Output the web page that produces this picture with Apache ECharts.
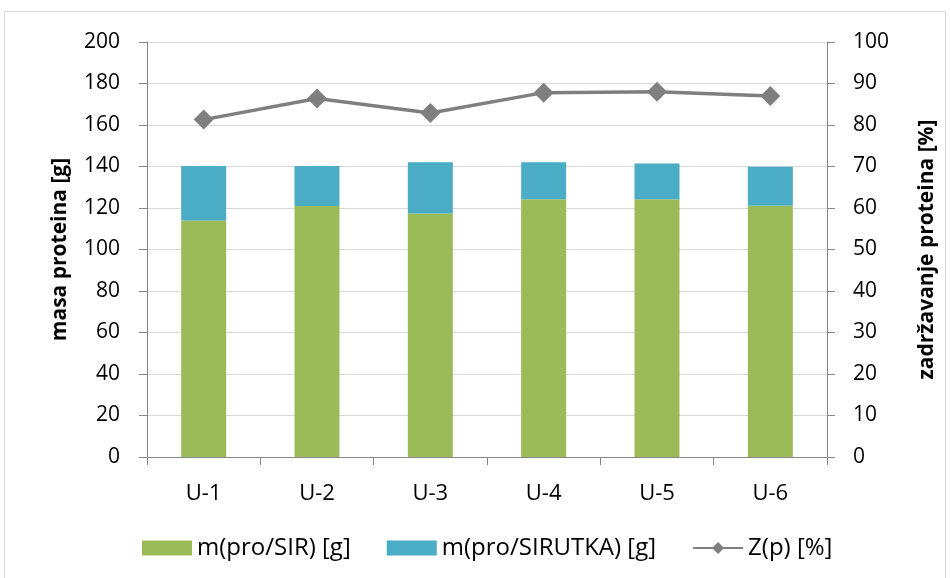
<!DOCTYPE html>
<html><head><meta charset="utf-8">
<script src="https://cdn.jsdelivr.net/npm/echarts@6/dist/echarts.min.js"></script>
<style>html,body{margin:0;padding:0;background:#fff}#c{width:950px;height:578px}</style>
</head><body><div id="c"></div>
<script>
const categories = ['U-1','U-2','U-3','U-4','U-5','U-6'];
const sirValues = [114, 121, 117.4, 124.2, 124.2, 121.1];
const sirutkaValues = [26.3, 19.3, 24.6, 17.8, 17.3, 18.8];
const zpValues = [81.3, 86.4, 82.9, 87.8, 88.0, 87.0];
const leftTicks = {min:0, max:200, interval:20};
const rightTicks = {min:0, max:100, interval:10};

const font = '"Open Sans", Lato, sans-serif';
const fs = 21;
const chart = echarts.init(document.getElementById('c'));
chart.setOption({
  animation:false,
  backgroundColor:'#fff',
  textStyle:{fontFamily:font},
  graphic:[{type:'rect',shape:{x:4.5,y:11.5,width:941,height:570},style:{fill:'none',stroke:'#d9d9d9',lineWidth:1},silent:true}],
  grid:{left:147,right:123,top:42,bottom:121},
  legend:{
    top:531, left:137, itemGap:36, itemWidth:50, itemHeight:15,
    textStyle:{fontSize:24,color:'#000',fontFamily:font},
    data:[{name:'m(pro/SIR) [g]',icon:'rect'},{name:'m(pro/SIRUTKA) [g]',icon:'rect'},{name:'Z(p) [%]'}]
  },
  xAxis:{type:'category',data:categories,
    axisLine:{lineStyle:{color:'#868686',width:1}},
    axisTick:{show:true,length:8,lineStyle:{color:'#868686'}},
    axisLabel:{fontSize:22,color:'#000',margin:26,fontFamily:font}
  },
  yAxis:[
    {type:'value',min:leftTicks.min,max:leftTicks.max,interval:leftTicks.interval,
     name:'masa proteina [g]',nameLocation:'middle',nameGap:76,nameRotate:90,
     nameTextStyle:{fontSize:fs,fontWeight:'bold',color:'#000',fontFamily:font},
     axisLine:{show:true,lineStyle:{color:'#868686'}},
     axisTick:{show:true,length:8,lineStyle:{color:'#868686'}},
     axisLabel:{fontSize:fs,color:'#000',margin:27,fontFamily:font},
     splitLine:{lineStyle:{color:'#d9d9d9',width:1}}},
    {type:'value',min:rightTicks.min,max:rightTicks.max,interval:rightTicks.interval,position:'right',
     name:'zadržavanje proteina [%]',nameLocation:'middle',nameGap:90,nameRotate:90,
     nameTextStyle:{fontSize:fs,fontWeight:'bold',color:'#000',fontFamily:font},
     axisLine:{show:true,lineStyle:{color:'#868686'}},
     axisTick:{show:true,length:8,lineStyle:{color:'#868686'}},
     axisLabel:{fontSize:fs,color:'#000',margin:26,fontFamily:font},
     splitLine:{show:false}}
  ],
  series:[
    {name:'m(pro/SIR) [g]',type:'bar',stack:'a',data:sirValues,barWidth:45,
     itemStyle:{color:'#9bbb59'}},
    {name:'m(pro/SIRUTKA) [g]',type:'bar',stack:'a',data:sirutkaValues,barWidth:45,
     itemStyle:{color:'#4bacc6'}},
    {name:'Z(p) [%]',type:'line',yAxisIndex:1,data:zpValues,
     symbol:'diamond',symbolSize:20,
     lineStyle:{color:'#7f7f7f',width:3.5},itemStyle:{color:'#7f7f7f'}}
  ]
});
</script></body></html>
